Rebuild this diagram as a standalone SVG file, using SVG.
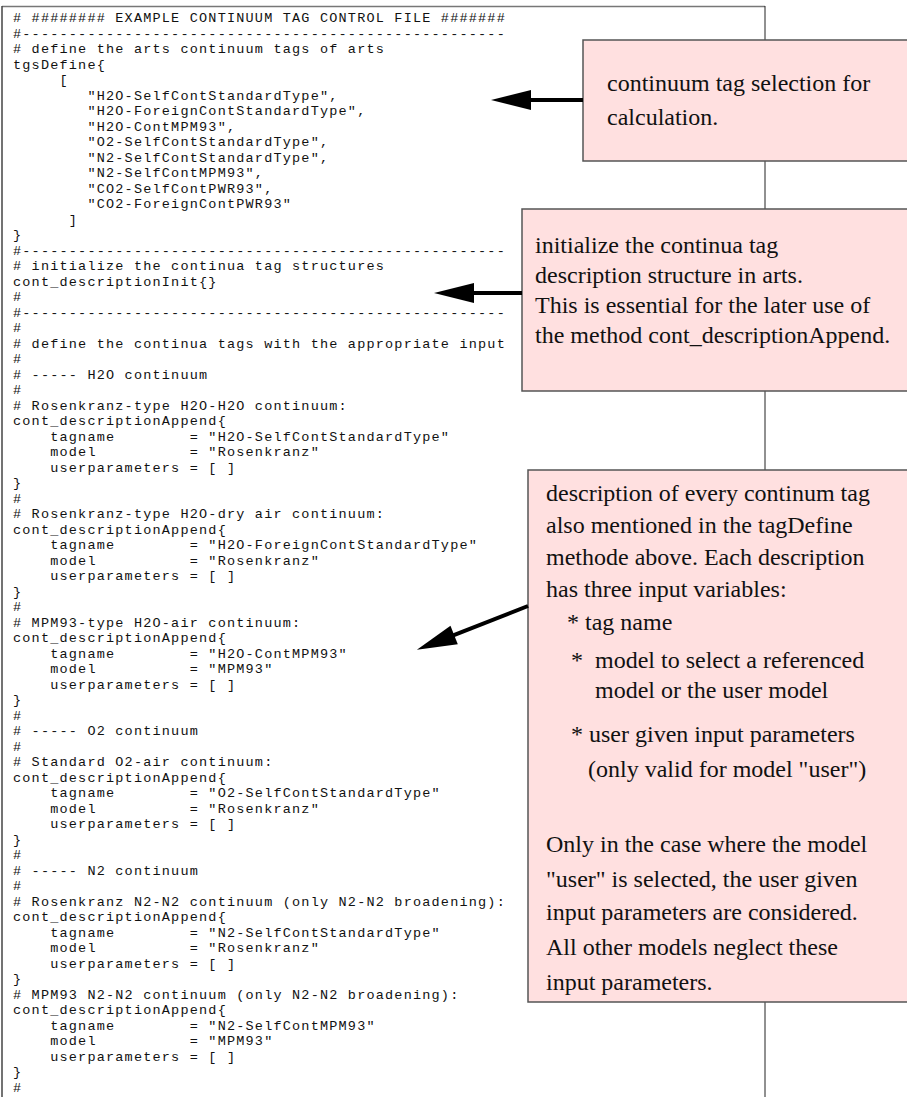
<svg xmlns="http://www.w3.org/2000/svg" width="907" height="1097" viewBox="0 0 907 1097">
<style>
.code{font-family:"Liberation Mono","DejaVu Sans Mono",monospace;font-size:13.5px;letter-spacing:1.2px;fill:#111;white-space:pre}
.note{font-family:"Liberation Serif","DejaVu Serif",serif;font-size:24px;fill:#111}
.box{fill:#FFE0E0;stroke:#555;stroke-width:1.5}
.conn{stroke:#000;stroke-width:4;fill:none;marker-end:url(#ah)}
</style>
<defs>
<marker id="ah" markerUnits="userSpaceOnUse" viewBox="0 0 40 20" refX="1" refY="10" markerWidth="40" markerHeight="20" orient="auto" overflow="visible">
<path d="M0,0 L40,10 L0,20 Z" fill="#000"/>
</marker>
</defs>
<rect x="0" y="0" width="907" height="1097" fill="#fff"/>
<g id="frame">
<line x1="2" y1="6.5" x2="765" y2="6.5" stroke="#777" stroke-width="1.5"/>
<line x1="2" y1="6" x2="2" y2="1097" stroke="#444" stroke-width="1.5"/>
<line x1="765" y1="6" x2="765" y2="1097" stroke="#222" stroke-width="1"/>
</g>
<g id="code" class="code">
<text xml:space="preserve" x="13" y="22"># ######## EXAMPLE CONTINUUM TAG CONTROL FILE #######</text>
<text xml:space="preserve" x="13" y="37.5">#----------------------------------------------------</text>
<text xml:space="preserve" x="13" y="53"># define the arts continuum tags of arts</text>
<text xml:space="preserve" x="13" y="68.5">tgsDefine{</text>
<text xml:space="preserve" x="13" y="84">     [</text>
<text xml:space="preserve" x="13" y="99.5">        "H2O-SelfContStandardType",</text>
<text xml:space="preserve" x="13" y="115">        "H2O-ForeignContStandardType",</text>
<text xml:space="preserve" x="13" y="130.5">        "H2O-ContMPM93",</text>
<text xml:space="preserve" x="13" y="146">        "O2-SelfContStandardType",</text>
<text xml:space="preserve" x="13" y="161.5">        "N2-SelfContStandardType",</text>
<text xml:space="preserve" x="13" y="177">        "N2-SelfContMPM93",</text>
<text xml:space="preserve" x="13" y="192.5">        "CO2-SelfContPWR93",</text>
<text xml:space="preserve" x="13" y="208">        "CO2-ForeignContPWR93"</text>
<text xml:space="preserve" x="13" y="223.5">      ]</text>
<text xml:space="preserve" x="13" y="239">}</text>
<text xml:space="preserve" x="13" y="254.5">#----------------------------------------------------</text>
<text xml:space="preserve" x="13" y="270"># initialize the continua tag structures</text>
<text xml:space="preserve" x="13" y="285.5">cont_descriptionInit{}</text>
<text xml:space="preserve" x="13" y="301">#</text>
<text xml:space="preserve" x="13" y="316.5">#----------------------------------------------------</text>
<text xml:space="preserve" x="13" y="332">#</text>
<text xml:space="preserve" x="13" y="347.5"># define the continua tags with the appropriate input</text>
<text xml:space="preserve" x="13" y="363">#</text>
<text xml:space="preserve" x="13" y="378.5"># ----- H2O continuum</text>
<text xml:space="preserve" x="13" y="394">#</text>
<text xml:space="preserve" x="13" y="409.5"># Rosenkranz-type H2O-H2O continuum:</text>
<text xml:space="preserve" x="13" y="425">cont_descriptionAppend{</text>
<text xml:space="preserve" x="13" y="440.5">    tagname        = "H2O-SelfContStandardType"</text>
<text xml:space="preserve" x="13" y="456">    model          = "Rosenkranz"</text>
<text xml:space="preserve" x="13" y="471.5">    userparameters = [ ]</text>
<text xml:space="preserve" x="13" y="487">}</text>
<text xml:space="preserve" x="13" y="502.5">#</text>
<text xml:space="preserve" x="13" y="518"># Rosenkranz-type H2O-dry air continuum:</text>
<text xml:space="preserve" x="13" y="533.5">cont_descriptionAppend{</text>
<text xml:space="preserve" x="13" y="549">    tagname        = "H2O-ForeignContStandardType"</text>
<text xml:space="preserve" x="13" y="564.5">    model          = "Rosenkranz"</text>
<text xml:space="preserve" x="13" y="580">    userparameters = [ ]</text>
<text xml:space="preserve" x="13" y="595.5">}</text>
<text xml:space="preserve" x="13" y="611">#</text>
<text xml:space="preserve" x="13" y="626.5"># MPM93-type H2O-air continuum:</text>
<text xml:space="preserve" x="13" y="642">cont_descriptionAppend{</text>
<text xml:space="preserve" x="13" y="657.5">    tagname        = "H2O-ContMPM93"</text>
<text xml:space="preserve" x="13" y="673">    model          = "MPM93"</text>
<text xml:space="preserve" x="13" y="688.5">    userparameters = [ ]</text>
<text xml:space="preserve" x="13" y="704">}</text>
<text xml:space="preserve" x="13" y="719.5">#</text>
<text xml:space="preserve" x="13" y="735"># ----- O2 continuum</text>
<text xml:space="preserve" x="13" y="750.5">#</text>
<text xml:space="preserve" x="13" y="766"># Standard O2-air continuum:</text>
<text xml:space="preserve" x="13" y="781.5">cont_descriptionAppend{</text>
<text xml:space="preserve" x="13" y="797">    tagname        = "O2-SelfContStandardType"</text>
<text xml:space="preserve" x="13" y="812.5">    model          = "Rosenkranz"</text>
<text xml:space="preserve" x="13" y="828">    userparameters = [ ]</text>
<text xml:space="preserve" x="13" y="843.5">}</text>
<text xml:space="preserve" x="13" y="859">#</text>
<text xml:space="preserve" x="13" y="874.5"># ----- N2 continuum</text>
<text xml:space="preserve" x="13" y="890">#</text>
<text xml:space="preserve" x="13" y="905.5"># Rosenkranz N2-N2 continuum (only N2-N2 broadening):</text>
<text xml:space="preserve" x="13" y="921">cont_descriptionAppend{</text>
<text xml:space="preserve" x="13" y="936.5">    tagname        = "N2-SelfContStandardType"</text>
<text xml:space="preserve" x="13" y="952">    model          = "Rosenkranz"</text>
<text xml:space="preserve" x="13" y="967.5">    userparameters = [ ]</text>
<text xml:space="preserve" x="13" y="983">}</text>
<text xml:space="preserve" x="13" y="998.5"># MPM93 N2-N2 continuum (only N2-N2 broadening):</text>
<text xml:space="preserve" x="13" y="1014">cont_descriptionAppend{</text>
<text xml:space="preserve" x="13" y="1029.5">    tagname        = "N2-SelfContMPM93"</text>
<text xml:space="preserve" x="13" y="1045">    model          = "MPM93"</text>
<text xml:space="preserve" x="13" y="1060.5">    userparameters = [ ]</text>
<text xml:space="preserve" x="13" y="1076">}</text>
<text xml:space="preserve" x="13" y="1091.5">#</text>
</g>
<g id="box1">
<rect class="box" x="583" y="40" width="330" height="121"/>
<text class="note" x="607" y="91">continuum tag selection for</text>
<text class="note" x="607" y="125">calculation.</text>
</g>
<g id="box2">
<rect class="box" x="522" y="209" width="390" height="182"/>
<text class="note" x="535" y="253">initialize the continua tag</text>
<text class="note" x="535" y="283">description structure in arts.</text>
<text class="note" x="535" y="313">This is essential for the later use of</text>
<text class="note" x="535" y="343">the method cont_descriptionAppend.</text>
</g>
<g id="box3">
<rect class="box" x="528" y="470" width="385" height="532"/>
<text class="note" x="546" y="501">description of every continum tag</text>
<text class="note" x="546" y="533">also mentioned in the tagDefine</text>
<text class="note" x="546" y="565">methode above. Each description</text>
<text class="note" x="546" y="597">has three input variables:</text>
<text class="note" x="567" y="630">* tag name</text>
<text class="note" x="571" y="668">*</text>
<text class="note" x="595" y="668">model to select a referenced</text>
<text class="note" x="595" y="698">model or the user model</text>
<text class="note" x="571" y="742">* user given input parameters</text>
<text class="note" x="588" y="777">(only valid for model "user")</text>
<text class="note" x="546" y="852">Only in the case where the model</text>
<text class="note" x="546" y="887">"user" is selected, the user given</text>
<text class="note" x="546" y="920">input parameters are considered.</text>
<text class="note" x="546" y="955">All other models neglect these</text>
<text class="note" x="546" y="990">input parameters.</text>
</g>
<g id="connectors">
<path class="conn" d="M583,100 L530,100"/>
<path class="conn" d="M522,293 L473,293"/>
<path class="conn" d="M528,606 L453.2,635.4"/>
</g>
</svg>
